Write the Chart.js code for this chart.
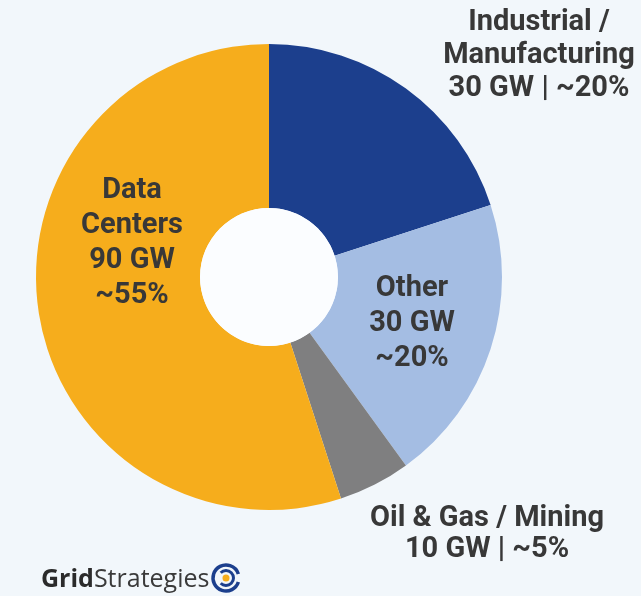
<!DOCTYPE html>
<html>
<head>
<meta charset="utf-8">
<script src="https://cdn.jsdelivr.net/npm/chart.js@4.4.1/dist/chart.umd.min.js"></script>
<style>
  html, body { margin: 0; padding: 0; background: #f2f7fb; }
  #wrap { position: relative; width: 641px; height: 596px; }
  canvas { display: block; }
</style>
</head>
<body>
<div id="wrap"><canvas id="loadChart" width="641" height="596"></canvas></div>
<script>
// Load growth by sector (GW and share of total)
const sectors = ['Industrial / Manufacturing', 'Other', 'Oil & Gas / Mining', 'Data Centers'];
const sharePct = [20, 20, 5, 55];
const gigawatts = [30, 30, 10, 90];
const sliceColors = ['#1c3f8d', '#a4bde3', '#7f7f80', '#f6ad1c'];

// label text lines per slice, and where each block sits
const labelLines = [
    ['Industrial /', 'Manufacturing', '30 GW | ~20%'],
    ['Other', '30 GW', '~20%'],
    ['Oil & Gas / Mining', '10 GW | ~5%'],
    ['Data', 'Centers', '90 GW', '~55%']
];
const labelSpots = [
    { x: 539, y: 23, gap: 33 },
    { x: 412, y: 289, gap: 35 },
    { x: 487, y: 519, gap: 31 },
    { x: 132, y: 191, gap: 35 }
];

const labelFont = 'bold 29px Roboto';
const textColor = '#383838';

// white disc in the doughnut hole
const holeFill = {
    id: 'holeFill',
    afterDatasetsDraw(chart) {
        const arc = chart.getDatasetMeta(0).data[0];
        const ctx = chart.ctx;
        ctx.save();
        ctx.fillStyle = '#fbfdff';
        ctx.beginPath();
        ctx.arc(arc.x, arc.y, arc.innerRadius, 0, Math.PI * 2);
        ctx.fill();
        ctx.restore();
    }
};

const sliceLabels = {
    id: 'sliceLabels',
    afterDraw(chart) {
        const ctx = chart.ctx;
        ctx.save();
        ctx.font = labelFont;
        ctx.fillStyle = textColor;
        ctx.textAlign = 'center';
        ctx.textBaseline = 'middle';
        labelLines.forEach((lines, i) => {
            const spot = labelSpots[i];
            lines.forEach((line, j) => {
                ctx.fillText(line, spot.x, spot.y + j * spot.gap);
            });
        });
        ctx.restore();
    }
};

// footer logo
const logo = {
    id: 'logo',
    afterDraw(chart) {
        const ctx = chart.ctx;
        ctx.save();
        ctx.textBaseline = 'alphabetic';
        ctx.textAlign = 'left';
        ctx.fillStyle = '#2b2b2b';
        ctx.font = 'bold 25px "Open Sans"';
        ctx.fillText('Grid', 41, 587);
        const w = ctx.measureText('Grid').width;
        ctx.font = '25px "Open Sans"';
        ctx.fillStyle = '#3a3a3a';
        ctx.fillText('Strategies', 41 + w, 587);

        // round mark
        const cx = 226, cy = 578;
        ctx.strokeStyle = '#1c3f8d';
        ctx.lineWidth = 3.5;
        ctx.beginPath();
        ctx.arc(cx, cy, 13, Math.PI * 0.1, Math.PI * 1.9);
        ctx.stroke();
        ctx.lineWidth = 3;
        ctx.beginPath();
        ctx.arc(cx, cy, 7.5, Math.PI * 1.25, Math.PI * 0.75);
        ctx.stroke();
        ctx.fillStyle = '#f6ad1c';
        ctx.beginPath();
        ctx.arc(cx, cy, 3.5, 0, Math.PI * 2);
        ctx.fill();
        ctx.restore();
    }
};

new Chart(document.getElementById('loadChart'), {
    type: 'doughnut',
    data: {
        labels: sectors,
        datasets: [{
            data: sharePct,
            gw: gigawatts,
            backgroundColor: sliceColors,
            borderWidth: 0
        }]
    },
    options: {
        responsive: false,
        animation: false,
        cutout: '29.6%',
        rotation: 0,
        layout: { padding: { left: 36, right: 139, top: 44, bottom: 86 } },
        plugins: {
            legend: { display: false },
            tooltip: { enabled: false }
        }
    },
    plugins: [holeFill, sliceLabels, logo]
});
</script>
</body>
</html>
